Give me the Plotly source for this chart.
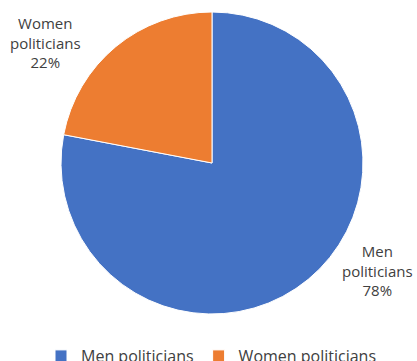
import plotly.graph_objects as go

labels = ["Men politicians", "Women politicians"]
values = [78, 22]
colors = ["#4472C4", "#ED7D31"]
label_lines = [["Men", "politicians"], ["Women", "politicians"]]

W, H = 417, 361
# label block centers in px
label_centers = [(377, 270), (45, 42)]


def px(x):
    return x / W


def py(y):
    return 1 - y / H


fig = go.Figure(
    go.Pie(
        labels=labels,
        values=values,
        marker=dict(colors=colors, line=dict(color="white", width=1)),
        sort=False,
        direction="clockwise",
        rotation=0,
        textinfo="none",
        hoverinfo="label+percent",
        domain=dict(x=[px(61), px(363)], y=[py(314), py(12)]),
    )
)

total = sum(values)
annotations = []
font = dict(family="Open Sans", size=15, color="#404040")
for lines, v, (cx, cy) in zip(label_lines, values, label_centers):
    txt = "<br>".join(lines + [f"{round(100 * v / total)}%"])
    annotations.append(
        dict(
            x=px(cx), y=py(cy), xref="paper", yref="paper", text=txt,
            showarrow=False, font=font, align="center",
            xanchor="center", yanchor="middle",
        )
    )

fig.update_layout(
    width=W, height=H,
    margin=dict(l=0, r=0, t=0, b=0, autoexpand=False),
    paper_bgcolor="white",
    plot_bgcolor="white",
    annotations=annotations,
    showlegend=True,
    legend=dict(
        orientation="h", x=px(41), xanchor="left", y=py(356), yanchor="middle",
        font=dict(family="Open Sans", size=16, color="#404040"),
        itemwidth=30, tracegroupgap=0,
    ),
)

fig.write_html(
    "out.html",
    config={"displayModeBar": False},
    post_script="document.body.style.margin='0';document.body.style.overflow='hidden';",
)
